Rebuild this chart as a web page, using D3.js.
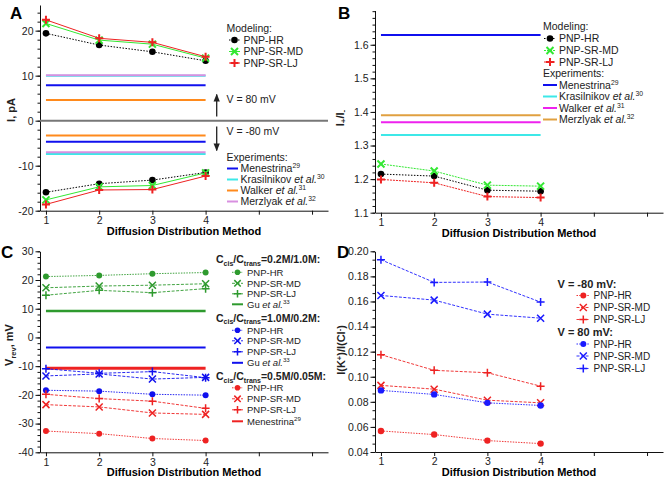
<!DOCTYPE html>
<html><head><meta charset="utf-8">
<script src="https://cdn.jsdelivr.net/npm/d3@7"></script>
<style>
body{margin:0;background:#fff;}
svg{font-family:"Liberation Sans",Arial,sans-serif;}
</style></head>
<body><svg id="c" width="670" height="486"></svg>
<script>
// ---------- shared ----------
const methods = [1, 2, 3, 4];
const xTickValues = [1, 2, 3, 4, 5, 6];
const xTitle = "Diffusion Distribution Method";
const modelNames = ["PNP-HR", "PNP-SR-MD", "PNP-SR-LJ"];

// ---------- panel A: I, pA ----------
const aHRpos = [19.4, 16.8, 15.3, 13.3];
const aMDpos = [21.6, 17.9, 17.0, 13.9];
const aLJpos = [22.4, 18.3, 17.4, 14.2];
const aHRneg = [-15.9, -14.0, -13.2, -11.5];
const aMDneg = [-17.6, -14.7, -14.4, -11.6];
const aLJneg = [-18.6, -15.4, -15.3, -12.3];
const aExpNames = ["Menestrina", "Krasilnikov", "Walker", "Merzlyak"];
const aExpRefs = ["29", "30", "31", "32"];
const aExpPos = [7.85, 10.0, 4.6, 10.08];
const aExpNeg = [-4.7, -7.4, -3.3, -7.0];
const aYTicks = [-20, -10, 0, 10, 20];

// ---------- panel B: I+/I- ----------
const bHR = [1.215, 1.209, 1.167, 1.164];
const bMD = [1.245, 1.224, 1.182, 1.179];
const bLJ = [1.199, 1.189, 1.148, 1.145];
const bExp = [1.629, 1.331, 1.369, 1.390];
const bYTicks = [1.1, 1.2, 1.3, 1.4, 1.5, 1.6];

// ---------- panel C: Vrev, mV ----------
const cConcLabels = ["0.2M/1.0M:", "1.0M/0.2M:", "0.5M/0.05M:"];
const cGreenHR = [21.2, 21.6, 22.2, 22.6];
const cGreenMD = [17.3, 17.9, 18.2, 18.7];
const cGreenLJ = [14.7, 16.4, 15.6, 17.0];
const cGreenGu = 9.2;
const cBlueHR = [-18.4, -18.7, -19.8, -20.1];
const cBlueMD = [-13.4, -12.7, -14.5, -13.9];
const cBlueLJ = [-10.9, -12.5, -11.9, -14.0];
const cBlueGu = -3.5;
const cRedHR = [-32.6, -33.5, -35.2, -35.9];
const cRedMD = [-23.4, -24.2, -26.3, -26.8];
const cRedLJ = [-19.8, -21.3, -22.2, -24.7];
const cRedMen = -10.7;
const cYTicks = [-40, -30, -20, -10, 0, 10, 20, 30];

// ---------- panel D: I(K+)/I(Cl-) ----------
const dNegHR = [0.0568, 0.0539, 0.0491, 0.0467];
const dNegMD = [0.0931, 0.0901, 0.0813, 0.0792];
const dNegLJ = [0.1176, 0.1051, 0.1032, 0.0925];
const dPosHR = [0.0891, 0.0859, 0.0792, 0.0771];
const dPosMD = [0.1648, 0.1611, 0.1499, 0.1467];
const dPosLJ = [0.1933, 0.1752, 0.1755, 0.1595];
const dYTicks = [0.04, 0.06, 0.08, 0.10, 0.12, 0.14, 0.16, 0.18, 0.20];

// ---------- colours ----------
const BLACK = "#000", GREEN_A = "#33e833", RED = "#ee2222", BLUE = "#1010ee",
      CYAN = "#3de8e8", ORANGE = "#ff8a1c", ORCHID = "#d890e0",
      MAGENTA = "#ee22ee", GOLD = "#e0a040", GREEN_C = "#2e9a2e", BLUE_D = "#1a1aff";

const svg = d3.select("#c");
const FONT = "Liberation Sans, Arial, sans-serif";

function marker(g, type, cx, cy, color, s, w) {
  if (type === "circle") {
    g.append("circle").attr("cx", cx).attr("cy", cy).attr("r", s).attr("fill", color);
  } else if (type === "x") {
    g.append("path").attr("d", `M${cx-s},${cy-s}L${cx+s},${cy+s}M${cx-s},${cy+s}L${cx+s},${cy-s}`)
      .attr("stroke", color).attr("stroke-width", w).attr("fill", "none");
  } else {
    g.append("path").attr("d", `M${cx-s-0.5},${cy}L${cx+s+0.5},${cy}M${cx},${cy-s-0.5}L${cx},${cy+s+0.5}`)
      .attr("stroke", color).attr("stroke-width", w).attr("fill", "none");
  }
}

function makePanel(ox, oy, yDomain, yRange, yTicks, minorStep, fmt) {
  const g = svg.append("g").attr("transform", `translate(${ox},${oy})`);
  const x = d3.scaleLinear().domain([0.888, 6.3]).range([40, 328]);
  const y = d3.scaleLinear().domain(yDomain).range(yRange);
  const minors = d3.range(yDomain[0], yDomain[1] + 1e-9, minorStep);
  g.append("g").attr("transform", "translate(40,0)")
    .call(d3.axisLeft(y).tickValues(minors).tickSize(2.5).tickSizeOuter(0).tickFormat(""))
    .call(a => a.select(".domain").remove());
  const ya = g.append("g").attr("transform", "translate(40,0)")
    .call(d3.axisLeft(y).tickValues(yTicks).tickSize(4.5).tickSizeOuter(0).tickFormat(fmt).tickPadding(2));
  ya.selectAll("text").attr("font-size", 10.5).attr("font-family", FONT).attr("fill", "#222");
  const yb = yRange[0];
  const xa = g.append("g").attr("transform", `translate(0,${yb})`)
    .call(d3.axisBottom(x).tickValues(xTickValues).tickSize(4).tickSizeOuter(0)
      .tickFormat(d => d <= 4 ? d : "").tickPadding(2));
  xa.selectAll("text").attr("font-size", 10.5).attr("font-family", FONT).attr("fill", "#222");
  g.selectAll(".domain").attr("stroke", "#111").attr("stroke-width", 1);
  g.selectAll(".tick line").attr("stroke", "#111");
  g.append("text").attr("x", 184).attr("y", yb + 24).attr("text-anchor", "middle")
    .attr("font-size", 11).attr("font-weight", "bold").attr("font-family", FONT).text(xTitle);
  return {g, x, y};
}

function series(p, vals, color, type, dash, lw, ms, mw) {
  const line = d3.line().x((d, i) => p.x(methods[i])).y(d => p.y(d));
  p.g.append("path").datum(vals).attr("d", line).attr("fill", "none")
    .attr("stroke", color).attr("stroke-width", lw).attr("stroke-dasharray", dash);
  vals.forEach((v, i) => marker(p.g, type, p.x(methods[i]), p.y(v), color, ms, mw));
}

function hline(p, v, color, w) {
  p.g.append("line").attr("x1", p.x(1)).attr("x2", p.x(4)).attr("y1", p.y(v)).attr("y2", p.y(v))
    .attr("stroke", color).attr("stroke-width", w);
}

function txt(g, x, y, s, size, bold) {
  return g.append("text").attr("x", x).attr("y", y).attr("font-size", size)
    .attr("font-family", FONT).attr("font-weight", bold ? "bold" : "normal").attr("fill", "#222").text(s);
}

function expLabel(g, x, y, name, ref, size) {
  const t = g.append("text").attr("x", x).attr("y", y).attr("font-size", size)
    .attr("font-family", FONT).attr("fill", "#222");
  t.append("tspan").text(name === "Menestrina" ? name : name + " ");
  if (name !== "Menestrina") t.append("tspan").attr("font-style", "italic").text("et al.");
  t.append("tspan").attr("dy", -4).attr("font-size", size * 0.65).text(ref);
}

function panelLabel(x, y, s) {
  svg.append("text").attr("x", x).attr("y", y).attr("font-size", 17).attr("font-weight", 900)
    .attr("font-family", FONT).text(s);
}

function yTitle(x, y, build) {
  const t = svg.append("text").attr("transform", `translate(${x},${y}) rotate(-90)`)
    .attr("text-anchor", "middle").attr("font-size", 11).attr("font-weight", "bold")
    .attr("font-family", FONT).attr("fill", "#222");
  build(t);
}

// ================= Panel A =================
{
  const p = makePanel(0, 0, [-20, 25.7], [210.7, 5], aYTicks, 2, d => d);
  // zero line
  p.g.append("line").attr("x1", 40).attr("x2", 328).attr("y1", p.y(0)).attr("y2", p.y(0))
    .attr("stroke", "#777").attr("stroke-width", 2);
  const expCols = [BLUE, CYAN, ORANGE, ORCHID];
  aExpPos.forEach((v, i) => hline(p, v, expCols[i], 2));
  aExpNeg.forEach((v, i) => hline(p, v, expCols[i], 2));
  const cols = [BLACK, GREEN_A, RED], types = ["circle", "x", "plus"], dashes = ["1.5,1.5", null, null];
  [aHRpos, aMDpos, aLJpos].forEach((s, k) => series(p, s, cols[k], types[k], dashes[k], 1, k === 0 ? 3.3 : 3.5, 2));
  [aHRneg, aMDneg, aLJneg].forEach((s, k) => series(p, s, cols[k], types[k], dashes[k], 1, k === 0 ? 3.3 : 3.5, 2));
  // arrows
  const defs = svg.append("defs");
  defs.append("marker").attr("id", "ah").attr("viewBox", "0 0 10 10").attr("refX", 9).attr("refY", 5)
    .attr("markerWidth", 6).attr("markerHeight", 6).attr("orient", "auto")
    .append("path").attr("d", "M0,1L10,5L0,9Z").attr("fill", "#222");
  p.g.append("line").attr("x1", 216.7).attr("x2", 216.7).attr("y1", 116.5).attr("y2", 94.5)
    .attr("stroke", "#222").attr("stroke-width", 1.3).attr("marker-end", "url(#ah)");
  p.g.append("line").attr("x1", 216.7).attr("x2", 216.7).attr("y1", 126.5).attr("y2", 150.5)
    .attr("stroke", "#222").attr("stroke-width", 1.3).attr("marker-end", "url(#ah)");
  txt(p.g, 226.5, 102.5, "V = 80 mV", 10.5);
  txt(p.g, 226.5, 134.5, "V = -80 mV", 10.5);
  // legend
  txt(p.g, 226.5, 32, "Modeling:", 10.5);
  [43.5, 55, 66.5].forEach((yy, k) => {
    p.g.append("line").attr("x1", 229).attr("x2", 240).attr("y1", yy - 3.5).attr("y2", yy - 3.5)
      .attr("stroke", cols[k]).attr("stroke-width", 1).attr("stroke-dasharray", dashes[k]);
    marker(p.g, types[k], 234.5, yy - 3.5, cols[k], k === 0 ? 3.3 : 3.5, 2);
    txt(p.g, 243.5, yy, modelNames[k], 10.5);
  });
  txt(p.g, 226.5, 161, "Experiments:", 10.5);
  [172, 183, 194, 205].forEach((yy, k) => {
    p.g.append("line").attr("x1", 227).attr("x2", 238).attr("y1", yy - 3.5).attr("y2", yy - 3.5)
      .attr("stroke", expCols[k]).attr("stroke-width", 2);
    expLabel(p.g, 240.5, yy, aExpNames[k], aExpRefs[k], 10.5);
  });
  panelLabel(10, 19, "A");
  yTitle(15, 110, t => t.text("I, pA"));
}

// ================= Panel B =================
{
  const p = makePanel(335, 0, [1.1, 1.702], [212.7, 10.5], bYTicks, 0.02, d3.format(".1f"));
  const expCols = [BLUE, CYAN, MAGENTA, GOLD];
  bExp.forEach((v, i) => hline(p, v, expCols[i], 2));
  const cols = [BLACK, GREEN_A, RED], types = ["circle", "x", "plus"], dashes = ["1.5,1.5", "2,1", "2,1"];
  [bHR, bMD, bLJ].forEach((s, k) => series(p, s, cols[k], types[k], dashes[k], 1, k === 0 ? 3.3 : 3.5, 2));
  txt(p.g, 208, 30, "Modeling:", 10.5);
  [42, 54, 65.5].forEach((yy, k) => {
    p.g.append("line").attr("x1", 209).attr("x2", 221).attr("y1", yy - 3.5).attr("y2", yy - 3.5)
      .attr("stroke", cols[k]).attr("stroke-width", 1).attr("stroke-dasharray", dashes[k]);
    marker(p.g, types[k], 215, yy - 3.5, cols[k], k === 0 ? 3.3 : 3.5, 2);
    txt(p.g, 224, yy, modelNames[k], 10.5);
  });
  txt(p.g, 208, 77, "Experiments:", 10.5);
  [88.5, 100, 111.5, 123].forEach((yy, k) => {
    p.g.append("line").attr("x1", 208).attr("x2", 222).attr("y1", yy - 3.5).attr("y2", yy - 3.5)
      .attr("stroke", expCols[k]).attr("stroke-width", 2);
    expLabel(p.g, 224, yy, aExpNames[k], aExpRefs[k], 10.5);
  });
  panelLabel(338, 19, "B");
  yTitle(344, 118, t => {
    t.append("tspan").text("I");
    t.append("tspan").attr("dy", 2).attr("font-size", 8).text("+");
    t.append("tspan").attr("dy", -2).text("/I");
    t.append("tspan").attr("dy", 2).attr("font-size", 8).text("-");
  });
}

// ================= Panel C =================
{
  const p = makePanel(0, 243, [-40, 30], [209.3, 8.3], cYTicks, 2, d => d);
  hline(p, cGreenGu, GREEN_C, 2.5);
  hline(p, cBlueGu, BLUE, 2);
  hline(p, cRedMen, RED, 3);
  const types = ["circle", "x", "plus"], dashes = ["1.5,1.2", "3,1.5", "3,1.5"];
  [[cGreenHR, cGreenMD, cGreenLJ, GREEN_C], [cBlueHR, cBlueMD, cBlueLJ, BLUE], [cRedHR, cRedMD, cRedLJ, RED]]
    .forEach(grp => {
      [grp[0], grp[1], grp[2]].forEach((s, k) => series(p, s, grp[3], types[k], dashes[k], 0.9, k === 0 ? 3 : 3.5, 1.5));
    });
  const groups = [
    {title: 263, items: [275.5, 286.5, 297, 307.5], col: GREEN_C, ref: "Gu", num: "33"},
    {title: 321.5, items: [333.5, 344, 355, 366], col: BLUE, ref: "Gu", num: "33"},
    {title: 380, items: [391, 402, 413, 424.5], col: RED, ref: "Menestrina", num: "29"}
  ];
  groups.forEach((gr, gi) => {
    const t = p.g.append("text").attr("x", 216).attr("y", gr.title - 243).attr("font-size", 10.5)
      .attr("font-weight", "bold").attr("font-family", FONT).attr("fill", "#222");
    t.append("tspan").text("C");
    t.append("tspan").attr("dy", 2.5).attr("font-size", 7).text("cis");
    t.append("tspan").attr("dy", -2.5).text("/C");
    t.append("tspan").attr("dy", 2.5).attr("font-size", 7).text("trans");
    t.append("tspan").attr("dy", -2.5).text("=" + cConcLabels[gi]);
    gr.items.forEach((yy, k) => {
      const cy = yy - 243 - 3.2;
      if (k < 3) {
        p.g.append("line").attr("x1", 232).attr("x2", 243).attr("y1", cy).attr("y2", cy)
          .attr("stroke", gr.col).attr("stroke-width", 0.9).attr("stroke-dasharray", dashes[k]);
        marker(p.g, types[k], 237.5, cy, gr.col, k === 0 ? 2.8 : 3.2, 1.5);
        txt(p.g, 247, yy - 243, modelNames[k], 9.5);
      } else {
        p.g.append("line").attr("x1", 232).attr("x2", 243).attr("y1", cy).attr("y2", cy)
          .attr("stroke", gr.col).attr("stroke-width", 2);
        expLabel(p.g, 247, yy - 243, gr.ref, gr.num, 9.5);
      }
    });
  });
  panelLabel(1, 258, "C");
  yTitle(13, 345, t => {
    t.append("tspan").text("V");
    t.append("tspan").attr("dy", 2.5).attr("font-size", 7.5).text("rev");
    t.append("tspan").attr("dy", -2.5).text(", mV");
  });
}

// ================= Panel D =================
{
  const p = makePanel(335, 243, [0.04, 0.2], [209, 8.3], dYTicks, 0.02 / 3, d3.format(".2f"));
  const types = ["circle", "x", "plus"], dashes = ["1.5,1.2", "3,1.5", "3,1.5"];
  [dNegHR, dNegMD, dNegLJ].forEach((s, k) => series(p, s, RED, types[k], dashes[k], 0.9, k === 0 ? 3.2 : 3.5, 1.5));
  [dPosHR, dPosMD, dPosLJ].forEach((s, k) => series(p, s, BLUE_D, types[k], dashes[k], 0.9, k === 0 ? 3.2 : 3.5, 1.5));
  const groups = [
    {title: 287.5, label: "V = -80 mV:", items: [299, 311, 323], col: RED},
    {title: 336, label: "V = 80 mV:", items: [347.5, 359.5, 372], col: BLUE_D}
  ];
  groups.forEach(gr => {
    txt(p.g, 222.5, gr.title - 243, gr.label, 11, true);
    gr.items.forEach((yy, k) => {
      const cy = yy - 243 - 3.5;
      p.g.append("line").attr("x1", 241.5).attr("x2", 255).attr("y1", cy).attr("y2", cy)
        .attr("stroke", gr.col).attr("stroke-width", 0.9).attr("stroke-dasharray", dashes[k]);
      marker(p.g, types[k], 248.3, cy, gr.col, k === 0 ? 3 : 3.5, 1.5);
      txt(p.g, 258.5, yy - 243, modelNames[k], 10);
    });
  });
  panelLabel(337, 258, "D");
  yTitle(345, 350, t => {
    t.append("tspan").text("I(K");
    t.append("tspan").attr("dy", -3.5).attr("font-size", 7.5).text("+");
    t.append("tspan").attr("dy", 3.5).text(")/I(Cl");
    t.append("tspan").attr("dy", -3.5).attr("font-size", 7.5).text("-");
    t.append("tspan").attr("dy", 3.5).text(")");
  });
}
</script></body></html>
